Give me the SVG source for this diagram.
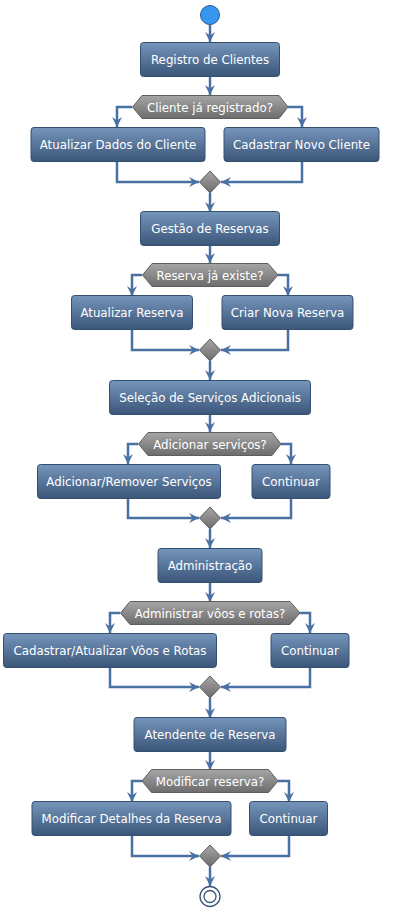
<svg xmlns="http://www.w3.org/2000/svg" width="407" height="917" viewBox="0 0 407 917">
<defs>
<linearGradient id="gBox" x1="0" y1="0" x2="0" y2="1">
<stop offset="0" stop-color="#7695bb"/>
<stop offset="1" stop-color="#3a5679"/>
</linearGradient>
<linearGradient id="gGray" x1="0" y1="0" x2="0" y2="1">
<stop offset="0" stop-color="#a6a6a6"/>
<stop offset="1" stop-color="#6c6c6c"/>
</linearGradient>
<marker id="arr" viewBox="0 0 10 10" refX="10" refY="5" markerWidth="10" markerHeight="10" markerUnits="userSpaceOnUse" orient="auto">
<path d="M0,0 L10,5 L0,10 L3.5,5 z" fill="#4a71a3"/>
</marker>
</defs>
<style>
.box rect{fill:url(#gBox);stroke:#34506f;stroke-width:1}
.dec polygon{fill:url(#gGray);stroke:#5e5e5e;stroke-width:1}
.merge polygon{fill:url(#gGray);stroke:#5e5e5e;stroke-width:1}
text{font-family:"DejaVu Sans",Verdana,sans-serif;font-size:11.8px;fill:#ffffff;text-anchor:middle}
#connectors path{fill:none;stroke:#4a71a3;stroke-width:2.5;marker-end:url(#arr)}
</style>

<g id="connectors">
<path d="M210,25 V42"/>
<path d="M210,77 V95"/>
<path d="M132,107 H117 V127"/>
<path d="M288,107 H302 V127"/>
<path d="M117,161 V182 H199"/>
<path d="M302,161 V182 H221"/>
<path d="M210,193 V212"/>
<path d="M210,245 V263"/>
<path d="M142,275 H132 V296"/>
<path d="M278,275 H288 V296"/>
<path d="M132,329 V350 H199"/>
<path d="M288,329 V350 H221"/>
<path d="M210,361 V380"/>
<path d="M210,414 V432"/>
<path d="M138,444 H128 V464"/>
<path d="M281,444 H291 V464"/>
<path d="M128,499 V518 H199"/>
<path d="M291,499 V518 H221"/>
<path d="M210,529 V548"/>
<path d="M210,583 V602"/>
<path d="M120,613 H110 V633"/>
<path d="M300,613 H310 V633"/>
<path d="M110,667 V687 H199"/>
<path d="M310,667 V687 H221"/>
<path d="M210,698 V718"/>
<path d="M210,752 V770"/>
<path d="M142,781 H132 V802"/>
<path d="M278,781 H289 V802"/>
<path d="M132,836 V856 H199"/>
<path d="M289,836 V856 H221"/>
<path d="M210,867 V886"/>
</g>

<g id="start"><circle cx="210" cy="15" r="9.5" fill="#3797f0" stroke="#2a5a90" stroke-width="1"/></g>

<g id="n1" class="box"><rect x="140.5" y="42.5" width="139" height="34" rx="3"/><text x="210" y="64">Registro de Clientes</text></g>
<g id="d1" class="dec"><polygon points="132.5,107 142,95.5 279,95.5 288,107 279,118.5 142,118.5"/><text x="210" y="111.5">Cliente já registrado?</text></g>
<g id="n2" class="box"><rect x="31" y="127.5" width="174" height="34" rx="3"/><text x="118" y="149">Atualizar Dados do Cliente</text></g>
<g id="n3" class="box"><rect x="224" y="127.5" width="155" height="34" rx="3"/><text x="301.5" y="149">Cadastrar Novo Cliente</text></g>
<g id="m1" class="merge"><polygon points="210,171 220.5,182 210,193 199.5,182"/></g>

<g id="n4" class="box"><rect x="140.5" y="211.5" width="139" height="34" rx="3"/><text x="210" y="233">Gestão de Reservas</text></g>
<g id="d2" class="dec"><polygon points="142.5,275 152,263.5 268,263.5 278,275 268,286.5 152,286.5"/><text x="210" y="279.5">Reserva já existe?</text></g>
<g id="n5" class="box"><rect x="71.5" y="295.5" width="121" height="34" rx="3"/><text x="132" y="317">Atualizar Reserva</text></g>
<g id="n6" class="box"><rect x="222" y="295.5" width="131" height="34" rx="3"/><text x="287.5" y="317">Criar Nova Reserva</text></g>
<g id="m2" class="merge"><polygon points="210,339 220.5,350 210,361 199.5,350"/></g>

<g id="n7" class="box"><rect x="109.5" y="380.5" width="201" height="34" rx="3"/><text x="210" y="402">Seleção de Serviços Adicionais</text></g>
<g id="d3" class="dec"><polygon points="138.5,444 148,432.5 272,432.5 281,444 272,455.5 148,455.5"/><text x="210" y="448.5">Adicionar serviços?</text></g>
<g id="n8" class="box"><rect x="37.5" y="464.5" width="183" height="34" rx="3"/><text x="129" y="486">Adicionar/Remover Serviços</text></g>
<g id="n9" class="box"><rect x="252" y="464.5" width="78" height="34" rx="3"/><text x="291" y="486">Continuar</text></g>
<g id="m3" class="merge"><polygon points="210,507 220.5,518 210,529 199.5,518"/></g>

<g id="n10" class="box"><rect x="158" y="548.5" width="104" height="34" rx="3"/><text x="210" y="570">Administração</text></g>
<g id="d4" class="dec"><polygon points="120.5,613 130,601.5 290,601.5 300,613 290,624.5 130,624.5"/><text x="210" y="617.5">Administrar vôos e rotas?</text></g>
<g id="n11" class="box"><rect x="3.5" y="633.5" width="213" height="34" rx="3"/><text x="110" y="655">Cadastrar/Atualizar Vôos e Rotas</text></g>
<g id="n12" class="box"><rect x="271" y="633.5" width="78" height="34" rx="3"/><text x="310" y="655">Continuar</text></g>
<g id="m4" class="merge"><polygon points="210,676 220.5,687 210,698 199.5,687"/></g>

<g id="n13" class="box"><rect x="134" y="717.5" width="152" height="34" rx="3"/><text x="210" y="739">Atendente de Reserva</text></g>
<g id="d5" class="dec"><polygon points="142,781 151.5,769.5 268.5,769.5 278,781 268.5,792.5 151.5,792.5"/><text x="210" y="785.5">Modificar reserva?</text></g>
<g id="n14" class="box"><rect x="32" y="801.5" width="199" height="34" rx="3"/><text x="131.5" y="823">Modificar Detalhes da Reserva</text></g>
<g id="n15" class="box"><rect x="249.5" y="801.5" width="78" height="34" rx="3"/><text x="288.5" y="823">Continuar</text></g>
<g id="m5" class="merge"><polygon points="210,845 220.5,856 210,867 199.5,856"/></g>

<g id="end"><circle cx="210" cy="896.5" r="10" fill="#ffffff" stroke="#3a5679" stroke-width="1.3"/><circle cx="210" cy="896.5" r="6" fill="#ffffff" stroke="#3a5679" stroke-width="1.3"/></g>
</svg>
